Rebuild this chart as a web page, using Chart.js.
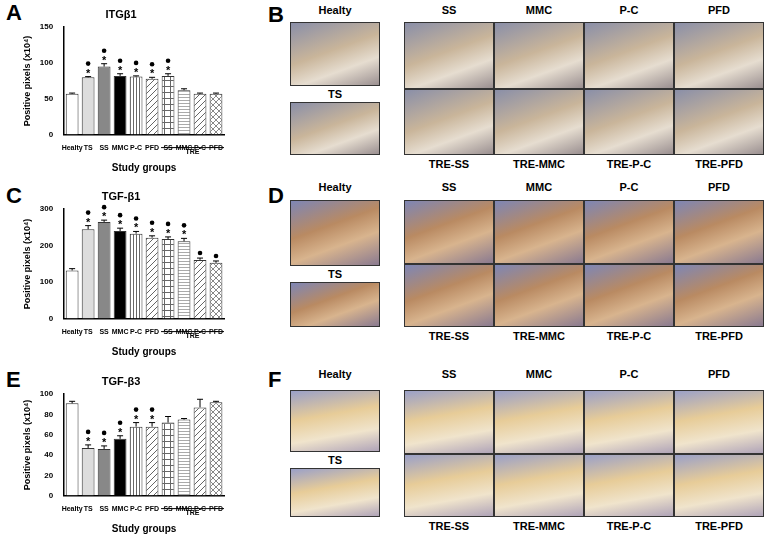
<!DOCTYPE html>
<html><head><meta charset="utf-8">
<script src="https://cdn.jsdelivr.net/npm/chart.js@4.4.0/dist/chart.umd.min.js"></script>
<style>
body{margin:0;width:766px;height:539px;background:#fff;font-family:Arial,"Liberation Sans",sans-serif;position:relative;overflow:hidden}
.cv{position:absolute;left:0;width:262px}
.lab{position:absolute;font-weight:bold;font-size:22px}
.ph{position:absolute;border:1px solid #333;box-sizing:border-box}
.t{position:absolute;font-weight:bold;font-size:11px;text-align:center;width:90px}
</style></head><body>
<div class="lab" style="left:6px;top:0">A</div>
<div class="lab" style="left:6px;top:183px">C</div>
<div class="lab" style="left:6px;top:367px">E</div>
<div class="lab" style="left:268px;top:2px">B</div>
<div class="lab" style="left:268px;top:183px">D</div>
<div class="lab" style="left:268px;top:367px">F</div>
<div class="cv" style="top:0;height:178px"><canvas id="cA"></canvas></div>
<div class="cv" style="top:182px;height:180px"><canvas id="cC"></canvas></div>
<div class="cv" style="top:367px;height:172px"><canvas id="cE"></canvas></div>
<div id="photos"></div>
<script>
const categories = ['Healty','TS','SS','MMC','P-C','PFD','SS','MMC','P-C','PFD'];
const itgb1 = [57, 80, 95, 82, 81, 78, 82, 62, 57, 57];
const itgb1Err = [1, 1, 4, 3, 1, 2, 3, 2, 1, 1];
const itgb1Sig = ['', 'both','both','both','both','both','both','', '', ''];
const tgfb1 = [132, 245, 265, 240, 233, 222, 218, 212, 161, 153];
const tgfb1Err = [5, 10, 5, 8, 6, 5, 6, 8, 5, 5];
const tgfb1Sig = ['', 'both','both','both','both','both','both','both','dot','dot'];
const tgfb3 = [91, 47, 46, 56, 68, 68, 72, 75, 87, 92];
const tgfb3Err = [2, 3, 3, 3, 4, 4, 6, 1, 8, 1];
const tgfb3Sig = ['', 'both','both','both','both','both','', '', '', ''];

function pat(kind) {
    const c = document.createElement('canvas'); c.width = c.height = 6;
    const g = c.getContext('2d');
    g.fillStyle = '#fff'; g.fillRect(0,0,6,6);
    g.strokeStyle = '#666'; g.lineWidth = 1;
    g.beginPath();
    if (kind === 'v') { g.moveTo(1.5,0); g.lineTo(1.5,6); g.moveTo(4.5,0); g.lineTo(4.5,6); }
    if (kind === 'd') { g.moveTo(0,6); g.lineTo(6,0); g.moveTo(-3,3); g.lineTo(3,-3); g.moveTo(3,9); g.lineTo(9,3); }
    if (kind === 'g') { g.moveTo(0,2.5); g.lineTo(6,2.5); g.moveTo(2.5,0); g.lineTo(2.5,6); }
    if (kind === 'h') { g.moveTo(0,1.5); g.lineTo(6,1.5); g.moveTo(0,4.5); g.lineTo(6,4.5); g.strokeStyle='#aaa'; }
    if (kind === 'x') { g.moveTo(0,0); g.lineTo(6,6); g.moveTo(0,6); g.lineTo(6,0); g.strokeStyle='#888'; }
    g.stroke();
    return g.createPattern(c, 'repeat');
}
const fills = ['#fff','#ddd','#888','#000',pat('v'),pat('d'),pat('g'),pat('h'),pat('d'),pat('x')];

const extras = {
    id: 'extras',
    afterDatasetsDraw(chart, args, o) {
        const ctx = chart.ctx, meta = chart.getDatasetMeta(0), y = chart.scales.y, x = chart.scales.x;
        ctx.save();
        ctx.strokeStyle = '#000'; ctx.fillStyle = '#000'; ctx.lineWidth = 1;
        meta.data.forEach((b, i) => {
            const top = y.getPixelForValue(o.values[i] + o.err[i]);
            ctx.beginPath(); ctx.moveTo(b.x, b.y); ctx.lineTo(b.x, top);
            ctx.moveTo(b.x - 3, top); ctx.lineTo(b.x + 3, top); ctx.stroke();
            let yy = top - 5;
            if (o.sig[i] === 'both') {
                ctx.font = 'bold 11px Arial'; ctx.textAlign = 'center';
                ctx.fillText('*', b.x, yy + 5); yy -= 8;
            }
            if (o.sig[i]) { ctx.beginPath(); ctx.arc(b.x, yy, 2.3, 0, 7); ctx.fill(); }
        });
        // TRE group line under the last four tick labels
        const x0 = meta.data[6].x - 7, x1 = meta.data[9].x + 8, ly = x.top + 13;
        ctx.beginPath(); ctx.moveTo(x0, ly); ctx.lineTo(x1, ly); ctx.stroke();
        ctx.font = 'bold 7px Arial'; ctx.textAlign = 'center'; ctx.textBaseline = 'top';
        ctx.fillText('TRE', (x0 + x1) / 2, ly + 1);
        ctx.restore();
    }
};

function makeChart(id, title, values, err, sig, max, step) {
    new Chart(document.getElementById(id), {
        type: 'bar',
        data: { labels: categories, datasets: [{ data: values, backgroundColor: fills, borderColor: '#333', borderWidth: 1, barPercentage: 0.8, categoryPercentage: 1 }] },
        options: {
            responsive: true, maintainAspectRatio: false, animation: false,
            layout: { padding: { left: 18, right: 38, top: 0 } },
            plugins: {
                legend: { display: false }, tooltip: { enabled: false },
                title: { display: true, text: title, color: '#000', font: { size: 11, weight: 'bold' }, padding: { top: 8, bottom: 6 } },
                extras: { values, err, sig }
            },
            scales: {
                x: { grid: { display: false }, border: { color: '#000', width: 1.5 },
                     ticks: { color: '#000', font: { size: 7, weight: 'bold' }, maxRotation: 0, autoSkip: false, padding: 1 },
                     title: { display: true, text: 'Study groups', color: '#000', font: { size: 10, weight: 'bold' }, padding: { top: 9 } } },
                y: { min: 0, max, grid: { display: false, drawTicks: true }, border: { color: '#000', width: 1.5 },
                     ticks: { stepSize: step, color: '#000', font: { size: 8, weight: 'bold' } },
                     title: { display: true, text: 'Positive pixels (x10\u2074)', color: '#000', font: { size: 9, weight: 'bold' } } }
            }
        },
        plugins: [extras]
    });
}
makeChart('cA', 'ITG\u03b21', itgb1, itgb1Err, itgb1Sig, 150, 50);
makeChart('cC', 'TGF-\u03b21', tgfb1, tgfb1Err, tgfb1Sig, 300, 100);
makeChart('cE', 'TGF-\u03b23', tgfb3, tgfb3Err, tgfb3Sig, 100, 20);

// micrograph placeholders
const top4 = ['SS','MMC','P-C','PFD'], bot4 = ['TRE-SS','TRE-MMC','TRE-P-C','TRE-PFD'];
const tones = [
    'linear-gradient(160deg,#8a8fa8,#c9b59a 45%,#e6ddd0 70%,#9a8f90)',
    'linear-gradient(160deg,#7e86b5,#b98a62 40%,#d8b48e 65%,#8a7a90)',
    'linear-gradient(170deg,#9aa0c8,#e7cc98 40%,#f0e4cc 70%,#b0a4b8)'];
const panels = [[16,22,100,155],[193,200,280,327],[380,390,466,517]];
let html = '';
panels.forEach((p, k) => {
    const [lt, gt, mid, gb] = p, bg = tones[k];
    html += `<div class="t" style="left:290px;top:${lt-12}px">Healty</div>`;
    html += `<div class="ph" style="left:290px;top:${gt}px;width:90px;height:${mid-gt-14}px;background:${bg}"></div>`;
    html += `<div class="t" style="left:290px;top:${mid-12}px">TS</div>`;
    html += `<div class="ph" style="left:290px;top:${mid+2}px;width:90px;height:${gb-mid-2}px;background:${bg}"></div>`;
    const h = (gb - gt) / 2;
    for (let c = 0; c < 4; c++) {
        const x = 404 + c * 90;
        html += `<div class="t" style="left:${x}px;top:${lt-12}px">${top4[c]}</div>`;
        html += `<div class="ph" style="left:${x}px;top:${gt}px;width:90px;height:${h}px;background:${bg}"></div>`;
        html += `<div class="ph" style="left:${x}px;top:${gt+h}px;width:90px;height:${h}px;background:${bg}"></div>`;
        html += `<div class="t" style="left:${x}px;top:${gb+3}px">${bot4[c]}</div>`;
    }
});
document.getElementById('photos').innerHTML = html;
</script>
</body></html>
